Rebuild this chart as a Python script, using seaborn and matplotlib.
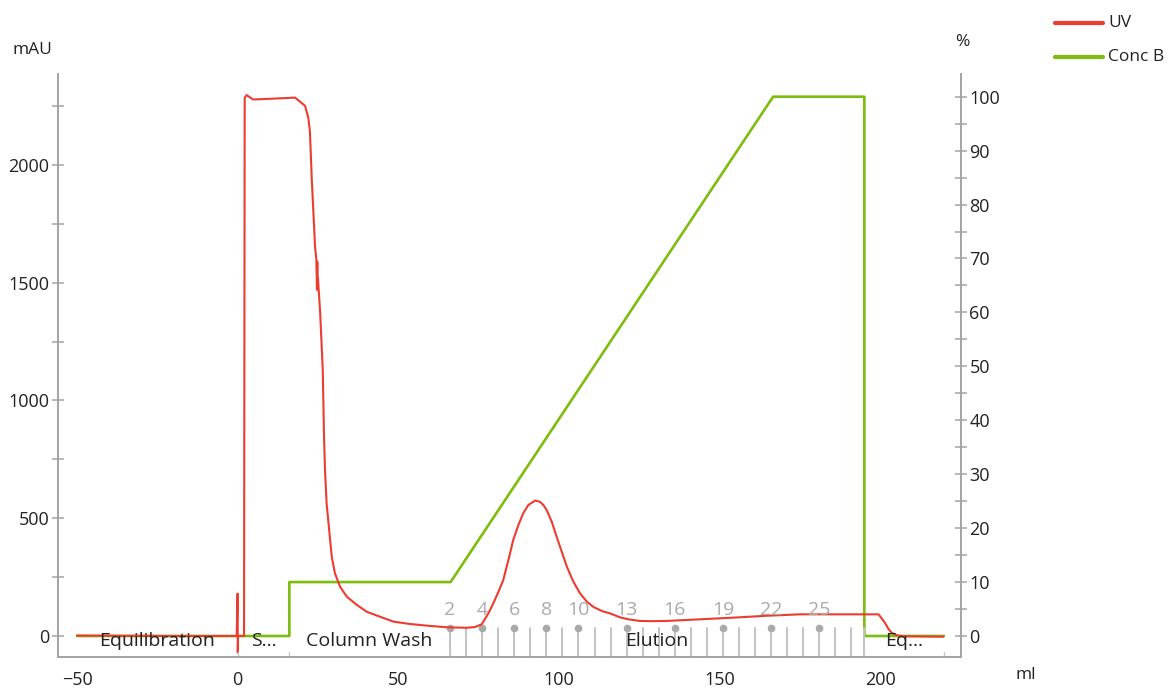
import numpy as np
import pandas as pd
import matplotlib
matplotlib.use("Agg")
import matplotlib.pyplot as plt
from matplotlib.lines import Line2D
from matplotlib.ticker import MultipleLocator
import seaborn as sns

# UV absorbance trace (ml, mAU)
uv_ml = [-50.0, -20.0, -0.3, 0.0, 0.05, 0.15, 2.0, 2.2, 2.8, 4.8, 10.0, 17.9,
         21.0, 22.0, 22.5, 23.1, 24.1, 24.5, 24.7, 24.8, 24.9, 25.0, 25.7,
         26.5, 26.7, 26.9, 27.2, 27.7, 28.5, 29.3, 30.3, 31.9, 34.0, 37.1,
         40.2, 44.3, 48.5, 53.7, 58.9, 65.1, 71.3, 73.9, 76.0, 78.05, 79.6,
         81.2, 82.7, 84.3, 85.8, 87.4, 88.9, 90.5, 92.6, 94.1, 95.2, 96.2,
         97.8, 99.3, 100.9, 102.5, 104.5, 106.6, 108.7, 110.7, 113.4, 115.9,
         119.1, 122.0, 125.3, 129.0, 133.6, 144.0, 154.3, 164.7, 175.1, 185.5,
         199.5, 200.5, 201.6, 202.6, 203.6, 205.2, 207.3, 219.7]
uv_mau = [2, 0, 0, 180, -70, 0, 0, 2285, 2297, 2278, 2281, 2286,
          2251, 2201, 2144, 1936, 1653, 1600, 1470, 1590, 1480, 1520, 1372,
          1130, 988, 846, 705, 563, 450, 337, 266, 209, 167, 132,
          103, 82, 61, 51, 44, 37, 35, 38, 50, 96, 139,
          188, 238, 323, 408, 471, 521, 556, 575, 570, 556, 535,
          485, 422, 358, 294, 231, 181, 146, 124, 106, 96,
          79, 70, 64, 63, 64, 71, 78, 86, 92, 92,
          92, 75, 54, 30, 14, 3, -1, -3]

# Buffer B concentration (ml, %)
conc_ml = [-50.0, 16.1, 16.1, 66.3, 166.7, 195.1, 195.1, 219.9]
conc_pct = [0, 0, 10, 10, 100, 100, 0, 0]

# Run phases (boundaries in ml) and their labels
phase_edges = [-50.0, 0.0, 16.1, 66.1, 195.1, 219.9]
phase_names = ["Equilibration", "S...", "Column Wash", "Elution", "Eq..."]

# Fraction boundaries (ml) and the fractions that carry a number
frac_ml = [66.1, 71.1, 76.1, 81.1, 86.1, 91.1, 96.1, 101.1, 106.1, 111.1,
           116.1, 121.1, 126.1, 131.1, 136.1, 141.1, 146.1, 151.1, 156.1,
           161.1, 166.1, 171.1, 176.1, 181.1, 186.1, 191.1, 195.1]
frac_no = list(range(2, 28)) + [None]
frac_labeled = [2, 4, 6, 8, 10, 13, 16, 19, 22, 25]

uv_df = pd.DataFrame({"ml": uv_ml, "mAU": uv_mau})
conc_df = pd.DataFrame({"ml": conc_ml, "pct": conc_pct})

sns.set_style("white")
plt.rcParams["font.family"] = ["Open Sans", "DejaVu Sans"]

RED = "#ee3b2f"
GREEN = "#7cbd0e"
AXC = "#a3a3a3"
TXT = "#222222"

fig = plt.figure(figsize=(11.71, 6.88), dpi=100)
ax = fig.add_axes([0.0493, 0.0451, 0.7714, 0.8469])
ax2 = ax.twinx()
ax.set_zorder(ax2.get_zorder() + 1)
ax.patch.set_visible(False)

sns.lineplot(data=conc_df, x="ml", y="pct", ax=ax2, color=GREEN, lw=1.9,
             sort=False, estimator=None)
sns.lineplot(data=uv_df, x="ml", y="mAU", ax=ax, color=RED, lw=1.5,
             sort=False, estimator=None)
for ln in ax.lines + ax2.lines:
    ln.set_solid_joinstyle("round")

ax.set_xlim(-56.0, 225.2)
ax.set_ylim(-89, 2385)
ax2.set_ylim(-3.89, 104.15)

for a in (ax, ax2):
    a.set_xlabel("")
    a.set_ylabel("")
    a.spines["top"].set_visible(False)
    for s in ("left", "right", "bottom"):
        a.spines[s].set_color(AXC)
        a.spines[s].set_linewidth(1.2)
    a.grid(False)

ax.xaxis.set_major_locator(MultipleLocator(50))
ax.xaxis.set_minor_locator(MultipleLocator(25))
ax.yaxis.set_major_locator(MultipleLocator(500))
ax.yaxis.set_minor_locator(MultipleLocator(250))
ax2.yaxis.set_major_locator(MultipleLocator(10))
ax2.yaxis.set_minor_locator(MultipleLocator(5))

for a in (ax, ax2):
    a.tick_params(which="both", direction="inout", length=8, width=1.1,
                  color=AXC, labelcolor=TXT, labelsize=13, pad=2)
ax.tick_params(axis="x", pad=6)

# fraction markers
xt = ax.get_xaxis_transform()
for pos, no in zip(frac_ml, frac_no):
    ax.plot([pos, pos], [0.0, 0.05], transform=xt, color="#c4c4c4", lw=1.4,
            zorder=1, clip_on=False)
    if no in frac_labeled:
        ax.plot(pos, 0.05, "o", transform=xt, color="#a9a9a9", ms=4.5, zorder=1)
        ax.text(pos, 0.081, str(no), transform=xt, ha="center", va="center",
                color="#aaaaaa", fontsize=14)

# phase labels and boundary marks
for i, name in enumerate(phase_names):
    mid = 0.5 * (phase_edges[i] + phase_edges[i + 1])
    ax.text(mid, 0.027, name, transform=xt, ha="center", va="center",
            color=TXT, fontsize=14, zorder=3)
for e in phase_edges[1:]:
    ax.plot([e, e], [0.0, 0.008], transform=xt, color="#c8c8c8", lw=1.0)

# axis titles
fig.text(12 / 1171, 1 - 50 / 688, "mAU", ha="left", va="center",
         fontsize=12.5, color=TXT)
fig.text(962 / 1171, 1 - 42 / 688, "%", ha="center", va="center",
         fontsize=12.5, color=TXT)
fig.text(1026 / 1171, 1 - 675 / 688, "ml", ha="center", va="center",
         fontsize=12.5, color=TXT)

# legend
for y, col, lab in [(22.7, RED, "UV"), (56.7, GREEN, "Conc B")]:
    yf = 1 - y / 688
    fig.add_artist(Line2D([1055 / 1171, 1103 / 1171], [yf, yf], color=col,
                          lw=3.0, transform=fig.transFigure))
    fig.text(1108 / 1171, yf, lab, ha="left", va="center", fontsize=12.5,
             color=TXT)

fig.savefig("out.png", dpi=100)
